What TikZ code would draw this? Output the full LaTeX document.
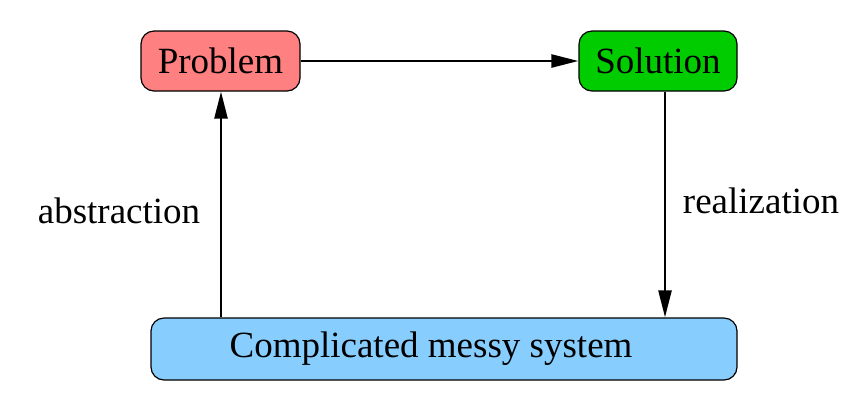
\documentclass[tikz,border=0pt]{standalone}
\usepackage{fontspec}
\setmainfont{Liberation Serif}
\usepackage{tikz}
\usetikzlibrary{arrows.meta,positioning}
\definecolor{probred}{HTML}{FF8080}
\definecolor{solgreen}{HTML}{00CC00}
\definecolor{sysblue}{HTML}{87CEFF}
\tikzset{%
  font=\rmfamily\fontsize{18.5}{22}\selectfont,>={Triangle[length=13.5pt,width=6.5pt]},
  box/.style  = { rectangle, draw=black, line width=0.6pt, rounded corners=6.5pt, minimum height=30pt },
  line/.style = { draw, line width=1.2pt, -> }
}

\begin{document}
\begin{tikzpicture}[x=0.5pt,y=-0.5pt]
	\useasboundingbox (0,0) rectangle (855,409);
	\node[box,fill=probred,minimum width=79.5pt] (problem) at (220.5,61) {Problem};
	\node[box,fill=solgreen,minimum width=79pt] (solution) at (658,61) {Solution};
	\node[box,fill=sysblue,minimum width=293pt,minimum height=31pt] (system) at (444,349) {Complicated messy system\rule{13pt}{0pt}};
	\path[line] (problem) -- (solution);
	\path[line] (solution.south -| 665,0) -- (system.north -| 665,0);
	\path[line] (system.north -| 221,0) -- (problem.south -| 221,0);
	\node (abstr) at (119,211) {abstraction};
	\node (realiz) at (761,201) {realization};
\end{tikzpicture}
\end{document}
